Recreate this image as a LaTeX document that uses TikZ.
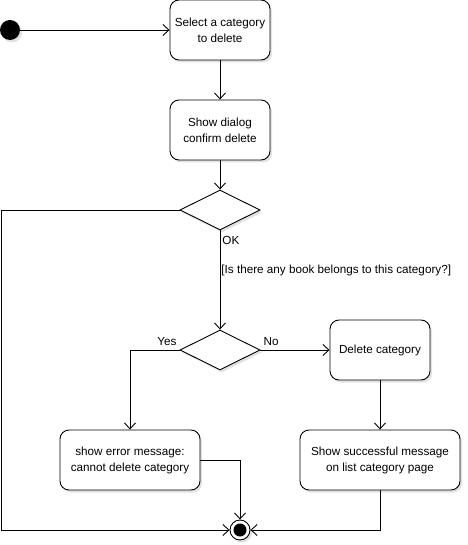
\documentclass[tikz,border=0pt]{standalone}
\usepackage{fontspec}
\setmainfont{Liberation Sans}
\usetikzlibrary{arrows.meta,shapes.geometric,shadows}
\begin{document}
\begin{tikzpicture}[x=1pt,y=-1pt,
  every node/.style={font=\fontsize{11.7}{16}\selectfont},
  act/.style={draw,rounded corners=9pt,fill=white,align=center,inner sep=0pt,line width=0.9pt,
    drop shadow={shadow xshift=2pt,shadow yshift=-2.5pt,fill=gray!45}},
  dec/.style={draw,diamond,fill=white,minimum width=80pt,minimum height=40pt,inner sep=0pt,aspect=2,line width=0.9pt,
    drop shadow={shadow xshift=2pt,shadow yshift=-2.5pt,fill=gray!45}},
  flow/.style={line width=0.9pt,-{Straight Barb[length=6pt,width=11pt,line width=0.9pt]}},
  lbl/.style={inner sep=0pt}]
\useasboundingbox (0,0) rectangle (467,545);
\node[circle,fill=black,minimum size=20pt,inner sep=0pt,drop shadow={shadow xshift=2pt,shadow yshift=-2.5pt,fill=gray!45}] (init) at (10,30) {};
\node[act,minimum width=100pt,minimum height=60pt] (sel) at (220,30) {Select a category\\to delete};
\node[act,minimum width=100pt,minimum height=60pt] (dlg) at (220,130) {Show dialog\\confirm delete};
\node[dec] (d1) at (220,210) {};
\node[dec] (d2) at (220,350) {};
\node[act,minimum width=100pt,minimum height=60pt] (del) at (380,350) {Delete category};
\node[act,minimum width=140pt,minimum height=60pt] (err) at (130,460) {show error message:\\cannot delete category};
\node[act,minimum width=160pt,minimum height=60pt] (succ) at (380,460) {Show successful message\\on list category page};
\node[circle,draw,fill=white,minimum size=20pt,inner sep=0pt,line width=0.9pt,drop shadow={shadow xshift=2pt,shadow yshift=-2.5pt,fill=gray!45}] (fin) at (240,530) {};
\node[circle,fill=black,minimum size=13pt,inner sep=0pt] (finin) at (240,530) {};
\coordinate (lft) at (1,210);
\node[lbl,anchor=south east,xshift=-3pt,yshift=4pt] (yes) at (d2.west) {Yes};
\draw[flow] (init) -- (sel);
\draw[flow] (sel) -- (dlg);
\draw[flow] (dlg) -- (d1);
\draw[flow] (d1.south) -- node[lbl,anchor=north west,pos=0.05,xshift=2pt] {OK} node[lbl,anchor=west,pos=0.4,xshift=1pt] {[Is there any book belongs to this category?]} (d2.north);
\draw[flow] (d2.east) -- node[lbl,anchor=south west,pos=0.04,yshift=4pt] {No} (del.west);
\draw[flow] (d2.west) -| (err.north);
\draw[flow] (del) -- (succ);
\draw[flow] (err.east) -| (fin.north);
\draw[flow] (succ.south) |- (fin.east);
\draw[flow] (d1.west) -- (lft) |- (fin.west);
\end{tikzpicture}
\end{document}
